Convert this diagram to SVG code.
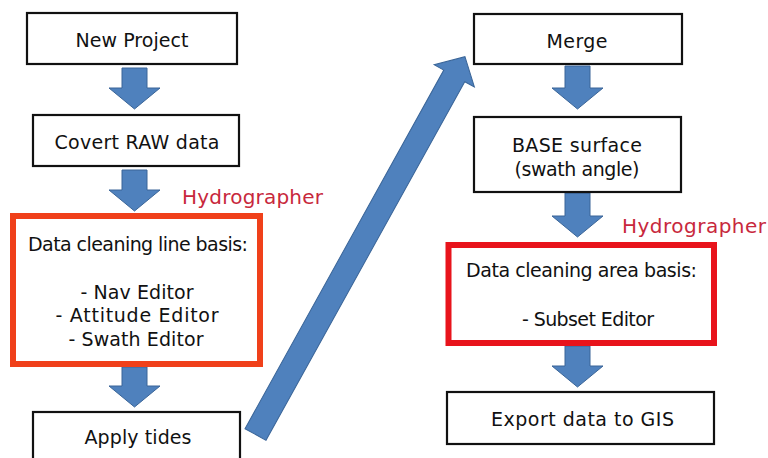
<svg xmlns="http://www.w3.org/2000/svg" width="768" height="458" viewBox="0 0 768 458">
<style>
.box{fill:#fff;stroke:#111;stroke-width:2.2}
.obox{fill:#fff;stroke:#f0401a;stroke-width:6}
.rbox{fill:#fff;stroke:#e8141c;stroke-width:6}
.arr{fill:#4f81bd;stroke:#3a6598;stroke-width:1}
text{font-family:"DejaVu Sans","Open Sans",sans-serif;font-size:19px;fill:#111;text-anchor:middle}
.hyd{fill:#c8283c;font-size:20px;text-anchor:start}
</style>
<rect width="768" height="458" fill="#fff"/>
<g id="connectors">
<path class="arr" d="M122,68 H147 V88 H160 L134.5,109 L109,88 H122 Z"/>
<path class="arr" d="M122,170 H147 V190 H160 L134.5,211 L109,190 H122 Z"/>
<path class="arr" d="M122,367 H147 V386 H160 L134.5,407 L109,386 H122 Z"/>
<path class="arr" d="M565,66 H590 V88 H603 L577.5,109 L552,88 H565 Z"/>
<path class="arr" d="M565,193 H590 V216 H603 L577.5,237 L552,216 H565 Z"/>
<path class="arr" d="M565,346 H590 V366 H603 L577.5,387 L552,366 H565 Z"/>
<path class="arr" transform="translate(255.5,434.5) rotate(-61)" d="M0,-12 H410 V-23 L432,0 L410,23 V12 H0 Z"/>
</g>
<g id="n1"><rect class="box" x="27" y="13" width="210" height="51"/><text x="132" y="47" textLength="113">New Project</text></g>
<g id="n2"><rect class="box" x="33" y="115" width="206" height="51"/><text x="137" y="149" textLength="165">Covert RAW data</text></g>
<g id="h1"><text class="hyd" x="182" y="204" textLength="141">Hydrographer</text></g>
<g id="n3"><rect class="obox" x="13" y="216" width="247" height="148"/>
<text x="138" y="251" textLength="220">Data cleaning line basis:</text>
<text x="137" y="299" textLength="113">- Nav Editor</text>
<text x="137" y="322" textLength="163">- Attitude Editor</text>
<text x="136" y="346" textLength="135">- Swath Editor</text></g>
<g id="n4"><rect class="box" x="33" y="412" width="207" height="60"/><text x="138" y="444" textLength="107">Apply tides</text></g>
<g id="n5"><rect class="box" x="474" y="14" width="208" height="50"/><text x="577" y="48" textLength="61">Merge</text></g>
<g id="n6"><rect class="box" x="474" y="117" width="207" height="75"/>
<text x="577" y="152" textLength="130">BASE surface</text>
<text x="577" y="176" textLength="125">(swath angle)</text></g>
<g id="h2"><text class="hyd" x="622" y="233" textLength="144">Hydrographer</text></g>
<g id="n7"><rect class="rbox" x="448.5" y="245" width="265.5" height="98"/>
<text x="581.5" y="277" textLength="231">Data cleaning area basis:</text>
<text x="588" y="326" textLength="132">- Subset Editor</text></g>
<g id="n8"><rect class="box" x="447" y="392" width="267" height="52"/><text x="582.5" y="426" textLength="183">Export data to GIS</text></g>
</svg>
